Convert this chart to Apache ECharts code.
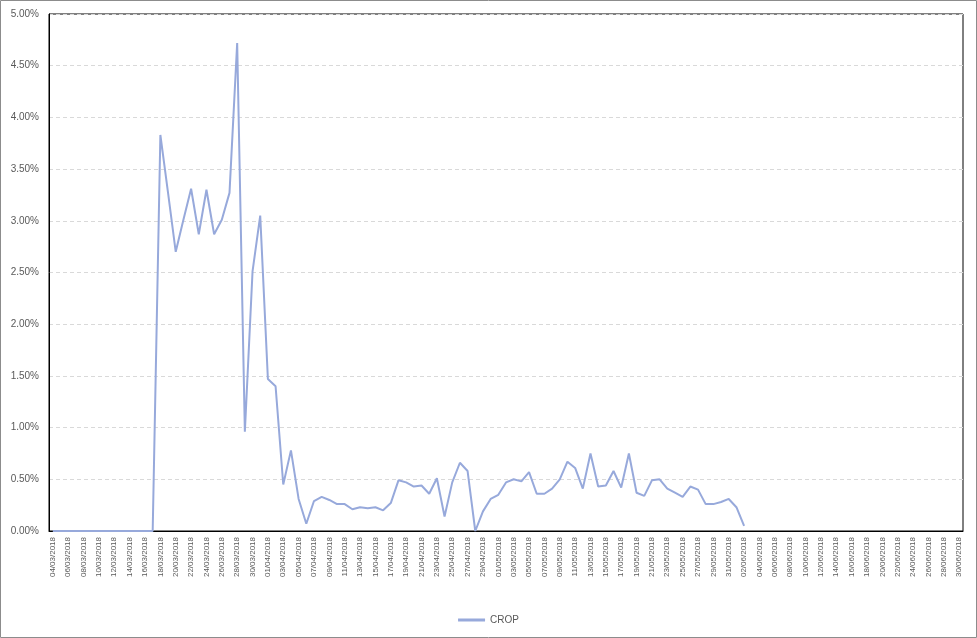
<!DOCTYPE html>
<html>
<head>
<meta charset="utf-8">
<script src="https://cdn.jsdelivr.net/npm/echarts@6/dist/echarts.min.js"></script>
<style>
  html, body { margin: 0; padding: 0; background: #fff; }
  #chart { width: 977px; height: 638px; }
</style>
</head>
<body>
<div id="chart"></div>
<script>
// daily categories, 04/03/2018 .. 30/06/2018
const months = [['03', 4, 31], ['04', 1, 30], ['05', 1, 31], ['06', 1, 30]]
const dates = []
months.forEach(([m, from, to]) => {
  for (let d = from; d <= to; d++) {
    dates.push(String(d).padStart(2, '0') + '/' + m + '/2018')
  }
})

// CROP values in percent, ends at 02/06/2018
const cropMarch = [
  0, 0, 0, 0, 0, 0, 0, 0, 0, 0, 0, 0, 0, 0,
  3.83, 3.27, 2.70, 3.01, 3.31, 2.87, 3.30, 2.87, 3.01, 3.27, 4.72, 0.96, 2.51, 3.05
]
const cropApril = [
  1.47, 1.40, 0.45, 0.78, 0.31, 0.07, 0.29, 0.33, 0.30, 0.26,
  0.26, 0.21, 0.23, 0.22, 0.23, 0.20, 0.27, 0.49, 0.47, 0.43,
  0.44, 0.36, 0.51, 0.14, 0.47, 0.66, 0.58, 0.00, 0.19, 0.31
]
const cropMay = [
  0.35, 0.47, 0.50, 0.48, 0.57, 0.36, 0.36, 0.41, 0.50, 0.67,
  0.61, 0.41, 0.75, 0.43, 0.44, 0.58, 0.42, 0.75, 0.37, 0.34,
  0.49, 0.50, 0.41, 0.37, 0.33, 0.43, 0.40, 0.26, 0.26, 0.28, 0.31
]
const cropJune = [0.23, 0.05]

const crop = [...cropMarch, ...cropApril, ...cropMay, ...cropJune]

const font = 'Liberation Sans, Arial, sans-serif'
const labelColor = '#595959'

const chart = echarts.init(document.getElementById('chart'))

chart.setOption({
  animation: false,
  textStyle: { fontFamily: font },
  graphic: [{
    type: 'rect',
    shape: { x: 0.5, y: 0.5, width: 976, height: 637 },
    style: { fill: 'none', stroke: '#8c8c8c', lineWidth: 1 },
    silent: true
  }],
  grid: {
    left: 49,
    right: 14,
    top: 14,
    bottom: 107,
    show: true,
    borderColor: '#000',
    borderWidth: 1
  },
  legend: {
    bottom: 8,
    left: 'center',
    icon: 'rect',
    itemWidth: 27,
    itemHeight: 3,
    itemGap: 4,
    textStyle: { color: labelColor, fontSize: 10, fontFamily: font },
    data: ['CROP']
  },
  xAxis: {
    type: 'category',
    data: dates,
    boundaryGap: true,
    axisLine: { lineStyle: { color: '#000', width: 1 } },
    axisTick: { show: false },
    axisLabel: {
      interval: 1,
      rotate: 90,
      margin: 6,
      fontSize: 8,
      color: labelColor,
      fontFamily: font
    }
  },
  yAxis: {
    type: 'value',
    min: 0,
    max: 5,
    interval: 0.5,
    axisLine: { show: true, lineStyle: { color: '#000', width: 1 } },
    axisTick: { show: false },
    axisLabel: {
      margin: 10,
      fontSize: 10,
      color: labelColor,
      fontFamily: font,
      formatter: v => v.toFixed(2) + '%'
    },
    splitLine: { lineStyle: { color: '#d9d9d9', type: [4, 3] } }
  },
  series: [{
    name: 'CROP',
    type: 'line',
    data: crop,
    showSymbol: false,
    lineStyle: { color: '#97a9db', width: 2 },
    itemStyle: { color: '#97a9db' }
  }]
})
</script>
</body>
</html>
